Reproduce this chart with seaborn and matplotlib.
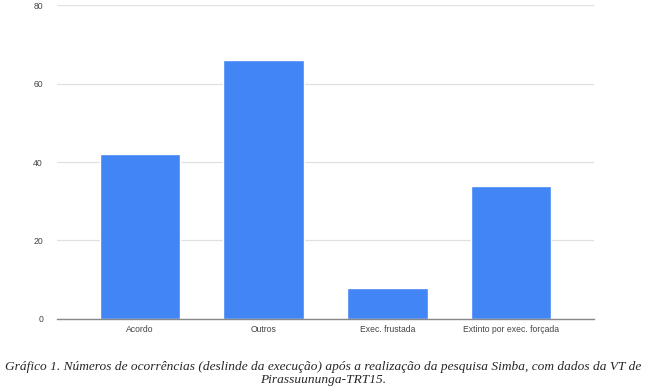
import pandas as pd
import seaborn as sns
import matplotlib.pyplot as plt

categorias = ['Acordo', 'Outros', 'Exec. frustada', 'Extinto por exec. forçada']
ocorrencias = [42, 66, 8, 34]
y_ticks = [0, 20, 40, 60, 80]

df = pd.DataFrame({'categoria': categorias, 'ocorrencias': ocorrencias})

sns.set_style('white')
plt.rcParams['font.family'] = ['Liberation Sans', 'DejaVu Sans']

fig = plt.figure(figsize=(6.47, 3.89), dpi=100)
ax = fig.add_axes([0.088, 0.180, 0.830, 0.807])

sns.barplot(data=df, x='categoria', y='ocorrencias', color='#4285F4',
            saturation=1, width=0.65, ax=ax, zorder=3)

ax.set_xlim(-0.67, len(categorias) - 0.33)
ax.set_ylim(0, 80)
ax.set_yticks(y_ticks)
ax.yaxis.grid(True, color='#e0e0e0', linewidth=0.9, zorder=0)
ax.set_xlabel(None)
ax.set_ylabel(None)
for s in ['top', 'right', 'left']:
    ax.spines[s].set_visible(False)
ax.spines['bottom'].set_color('#888888')
ax.spines['bottom'].set_linewidth(1.0)
ax.spines['bottom'].set_zorder(4)
ax.tick_params(axis='both', length=0, labelsize=6.2, labelcolor='#444444')
ax.tick_params(axis='y', pad=10)
ax.tick_params(axis='x', pad=4)

fig.text(0.5, 0.04,
         'Gráfico 1. Números de ocorrências (deslinde da execução) após a realização da pesquisa Simba, com dados da VT de\nPirassuununga-TRT15.',
         ha='center', va='center', fontsize=9.6, style='italic',
         family=['Liberation Serif', 'DejaVu Serif'], linespacing=1.2)

plt.savefig('out.png', dpi=100)
plt.close()
